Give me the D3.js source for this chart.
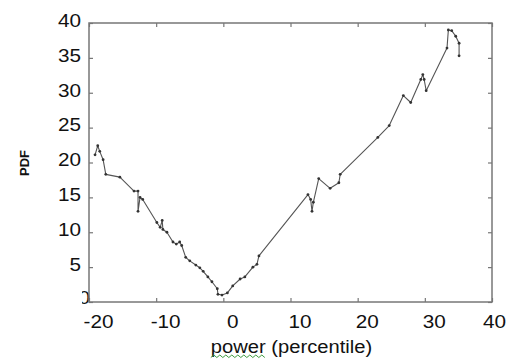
<!DOCTYPE html>
<html>
<head>
<meta charset="utf-8">
<script src="https://cdn.jsdelivr.net/npm/d3@7"></script>
<style>
  body { margin: 0; background: #fff; }
  svg { display: block; font-family: "Liberation Sans", Arial, sans-serif; }
</style>
</head>
<body>
<svg id="chart" width="510" height="360"></svg>
<script>
// values
const powerVals = [-19.1, -18.7, -18.4, -17.9, -17.5, -15.4, -13.3, -12.7, -12.7, -12.4, -12.0,
    -9.9, -9.4, -9.1, -9.0, -8.4, -7.5, -7.0, -6.5, -6.2, -5.6, -5.0, -4.1, -3.5, -3.0, -2.3,
    -1.7, -0.9, -0.8, -0.2, 0.6, 1.4, 2.5, 3.2, 4.4, 5.0, 5.3, 12.6, 13.0, 13.2, 13.4, 14.2,
    15.9, 17.2, 17.4, 23.0, 24.7, 26.8, 27.9, 29.4, 29.7, 29.9, 30.2, 33.3, 33.5, 34.0, 34.6,
    35.1, 35.1];
const pdfVals = [21.1, 22.4, 21.6, 20.4, 18.3, 17.9, 15.9, 15.9, 13.0, 15.0, 14.7,
    11.4, 10.7, 11.7, 10.4, 10.0, 8.6, 8.3, 8.6, 8.1, 6.4, 5.9, 5.3, 4.9, 4.4, 3.6,
    2.9, 1.9, 1.1, 1.0, 1.3, 2.3, 3.3, 3.6, 5.0, 5.4, 6.6, 15.4, 14.7, 13.0, 14.3, 17.7,
    16.3, 17.1, 18.3, 23.6, 25.3, 29.6, 28.6, 31.9, 32.6, 31.9, 30.3, 36.4, 39.0, 38.9, 38.1,
    37.1, 35.3];
const xTicks = [-20, -10, 0, 10, 20, 30, 40];
const yTicks = [0, 5, 10, 15, 20, 25, 30, 35, 40];

const data = powerVals.map((p, i) => ({ x: p, y: pdfVals[i] }));

const svg = d3.select("#chart");
const margin = { top: 23, right: 18, bottom: 58, left: 89 },
    width = 510, height = 360;

const x = d3.scaleLinear().domain([-20, 40]).range([margin.left, width - margin.right]);
const y = d3.scaleLinear().domain([0, 40]).range([height - margin.bottom, margin.top]);

// horizontal stretch of the text, as in the picture
function stretch(sel, k) {
    sel.each(function () {
        const w = this.getComputedTextLength();
        d3.select(this).attr("textLength", w * k).attr("lengthAdjust", "spacingAndGlyphs");
    });
}

const axisColor = "#777";
const plain = d => String(d);   // hyphen minus, like the picture

// bottom axis with labels
const gx = svg.append("g")
    .attr("transform", `translate(0,${y(0)})`)
    .call(d3.axisBottom(x).tickValues(xTicks).tickFormat(plain)
        .tickSizeInner(-4).tickSizeOuter(0).tickPadding(13));
gx.selectAll("text")
    .attr("dx", d => d == 40 ? 2 : 9)
    .style("font-size", "18px").attr("fill", "#111");

// left axis with labels
const gy = svg.append("g")
    .attr("transform", `translate(${x(-20)},0)`)
    .call(d3.axisLeft(y).tickValues(yTicks).tickFormat(plain)
        .tickSizeInner(-4).tickSizeOuter(0).tickPadding(8));
gy.selectAll("text")
    .attr("y", -2.5)
    .style("font-size", "18px").attr("fill", "#111");
// the 0 label sits clipped against the frame
svg.append("clipPath").attr("id", "zclip")
    .append("rect").attr("x", -7).attr("y", -20).attr("width", 20).attr("height", 40);
gy.selectAll(".tick").filter(d => d === 0).select("text")
    .attr("x", 1).attr("y", -4).attr("clip-path", "url(#zclip)");

// top and right ticks only
svg.append("g")
    .attr("transform", `translate(0,${y(40)})`)
    .call(d3.axisTop(x).tickValues(xTicks).tickSizeInner(-4).tickSizeOuter(0).tickFormat(""));
svg.append("g")
    .attr("transform", `translate(${x(40)},0)`)
    .call(d3.axisRight(y).tickValues(yTicks).tickSizeInner(-4).tickSizeOuter(0).tickFormat(""));

svg.selectAll(".domain").remove();
svg.selectAll(".tick line").attr("stroke", axisColor).attr("stroke-width", 1.2);
svg.selectAll(".tick text").call(stretch, 1.15);

// frame
svg.append("rect")
    .attr("x", x(-20)).attr("y", y(40))
    .attr("width", x(40) - x(-20)).attr("height", y(0) - y(40))
    .attr("fill", "none").attr("stroke", axisColor).attr("stroke-width", 1.5);

const line = d3.line()
    .x(d => x(d.x))
    .y(d => y(d.y));

svg.append("path")
    .datum(data)
    .attr("fill", "none")
    .attr("stroke", "#555")
    .attr("stroke-width", 1.1)
    .attr("stroke-linejoin", "round")
    .attr("d", line);

svg.append("g").selectAll("circle")
    .data(data)
    .join("circle")
    .attr("cx", d => x(d.x))
    .attr("cy", d => y(d.y))
    .attr("r", 1.4)
    .attr("fill", "#333");

// axis titles
const xt = svg.append("text")
    .attr("x", (x(-20) + x(40)) / 2 + 1)
    .attr("y", 353)
    .attr("text-anchor", "middle")
    .attr("fill", "#111")
    .style("font-size", "18px")
    .text("power (percentile)");
xt.call(stretch, 1.12);

// spell-check squiggle under "power"
const tb = xt.node().getBBox();
const pw = xt.node().getSubStringLength(0, 5);
const sq = d3.range(0, Math.floor(pw / 3) + 1).map(i => [tb.x + i * 3, 355 + (i % 2 ? 0 : 2.5)]);
svg.append("path")
    .attr("d", d3.line()(sq))
    .attr("fill", "none")
    .attr("stroke", "#3c9a3c")
    .attr("stroke-width", 1);

svg.append("text")
    .attr("transform", "translate(29,163) rotate(-90)")
    .attr("text-anchor", "middle")
    .attr("fill", "#111")
    .style("font-size", "13px")
    .style("font-weight", "bold")
    .text("PDF");
</script>
</body>
</html>
